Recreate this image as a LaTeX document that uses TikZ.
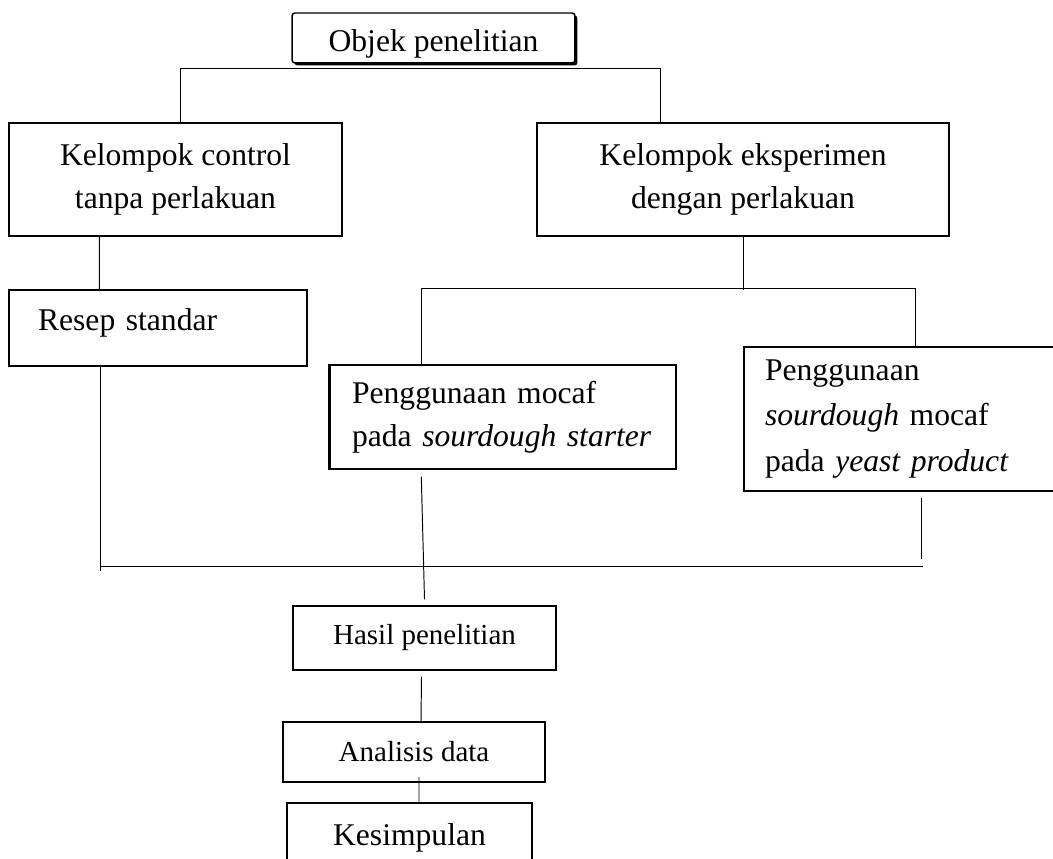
\documentclass[tikz,border=0pt]{standalone}
\usepackage{fontspec}
\setmainfont{Liberation Serif}
\usetikzlibrary{calc,shadows}
\newcommand{\hurufbesar}{\fontsize{18}{24.4}\selectfont}
\newcommand{\hurufkecil}{\fontsize{16.5}{20}\selectfont}
\tikzset{
	kotak/.style={draw, line width=0.85pt, inner sep=0pt, font=\hurufbesar},
	garis/.style={line width=0.55pt},
}

\begin{document}
\begin{tikzpicture}[x=0.02cm, y=-0.02cm]
			%%%%% START %%%%%
			\clip (0,0) rectangle (1053,858);
			
			\node[kotak, fill=white, rounded corners=0.06cm, minimum width=5.66cm, minimum height=1cm, text height=0.56cm, text depth=0pt, drop shadow={shadow xshift=0.05cm, shadow yshift=-0.05cm, fill=black, opacity=1}] (objek) at (433.5, 38) {Objek penelitian};
			
			\node[kotak, minimum width=6.66cm, minimum height=2.26cm, align=center] (kontrol) at (175.5, 179.5) {Kelompok control\\tanpa perlakuan};
			\node[kotak, minimum width=8.24cm, minimum height=2.26cm, align=center] (eksp) at (743, 179.5) {Kelompok eksperimen\\dengan perlakuan};
			
			\node[kotak, text width=4.8cm, inner xsep=0.58cm, minimum height=1.52cm, align=left, text height=0.44cm, text depth=0.36cm] (resep) at (158, 328) {Resep standar};
			\node[kotak, text width=6.04cm, inner xsep=0.44cm, minimum height=2.08cm, align=left] (starter) at (503, 417) {Penggunaan mocaf\\pada \textit{sourdough starter}};
			\draw[line width=1.8pt] (starter.north west) -- (starter.south west);
			\node[kotak, text width=5.56cm, inner xsep=0.42cm, minimum height=2.88cm, align=left, font=\fontsize{18}{25.8}\selectfont] (yeast) at (904, 419) {Penggunaan\\\textit{sourdough} mocaf\\pada \textit{yeast product}};
			
			\node[kotak, font=\hurufkecil, minimum width=5.26cm, minimum height=1.28cm] (hasil) at (424.5, 638) {Hasil penelitian};
			\node[kotak, font=\hurufkecil, minimum width=5.24cm, minimum height=1.2cm] (analisis) at (414, 752) {Analisis data};
			\node[kotak, minimum width=4.9cm, minimum height=1.4cm] (simpulan) at (409.5, 838) {Kesimpulan};
			
			\draw[garis] ($(kontrol.north)+(4.5,0)$) -- ++(0,-54) -| ($(eksp.north west)+(124,0)$);
			\draw[garis] ($(kontrol.south west)+(91,0)$) -- ($(resep.north west)+(91,0)$);
			\draw[garis] (eksp.south) -- ++(0,53);
			\draw[garis] ($(starter.north west)+(92,0)$) -- ++(0,-76) -| ($(yeast.north west)+(172,0)$);
			
			\draw[garis] ($(resep.south west)+(92,0)$) -- ++(0,200) coordinate (kiri) -- ++(0,4);
			\draw[garis] (kiri) -- ++(823,0);
			\draw[garis] ($(starter.south west)+(92,7)$) -- ($(hasil.north)+(0,-6)$);
			\draw[garis] ($(yeast.south west)+(178,6)$) -- ++(0,61);
			
			\draw[garis] ($(hasil.south)+(-3,6)$) -- ($(analisis.north)+(7,0)$);
			\draw[garis] ($(analisis.south)+(5,-6)$) -- ($(simpulan.north)+(9.5,0)$);
			
			%%%%% END %%%%%
\end{tikzpicture}
\end{document}
